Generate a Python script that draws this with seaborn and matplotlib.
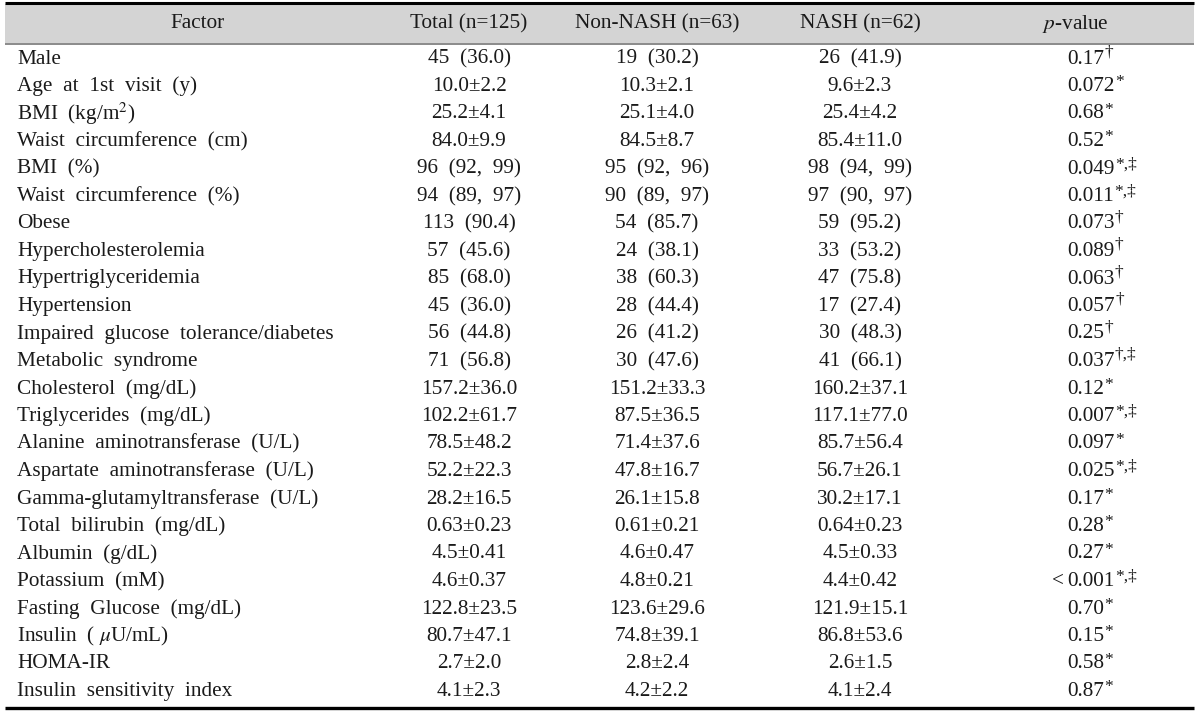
import matplotlib
matplotlib.use("Agg")
import matplotlib.pyplot as plt
import seaborn as sns

sns.set_theme(style="white")
plt.rcParams["font.family"] = ["Liberation Serif", "DejaVu Serif"]
plt.rcParams["mathtext.fontset"] = "stix"

headers = ["Factor", "Total (n=125)", "Non-NASH (n=63)", "NASH (n=62)", "$p$-value"]

factors = [
    "Male", "Age  at  1st  visit  (y)", "BMI  (kg/m$^2$)", "Waist  circumference  (cm)",
    "BMI  (%)", "Waist  circumference  (%)", "Obese", "Hypercholesterolemia",
    "Hypertriglyceridemia", "Hypertension", "Impaired  glucose  tolerance/diabetes",
    "Metabolic  syndrome", "Cholesterol  (mg/dL)", "Triglycerides  (mg/dL)",
    "Alanine  aminotransferase  (U/L)", "Aspartate  aminotransferase  (U/L)",
    "Gamma-glutamyltransferase  (U/L)", "Total  bilirubin  (mg/dL)", "Albumin  (g/dL)",
    "Potassium  (mM)", "Fasting  Glucose  (mg/dL)", "Insulin  ( $\\mu$U/mL)", "HOMA-IR",
    "Insulin  sensitivity  index",
]

total = [
    "45  (36.0)", "10.0±2.2", "25.2±4.1", "84.0±9.9", "96  (92,  99)", "94  (89,  97)",
    "113  (90.4)", "57  (45.6)", "85  (68.0)", "45  (36.0)", "56  (44.8)", "71  (56.8)",
    "157.2±36.0", "102.2±61.7", "78.5±48.2", "52.2±22.3", "28.2±16.5", "0.63±0.23",
    "4.5±0.41", "4.6±0.37", "122.8±23.5", "80.7±47.1", "2.7±2.0", "4.1±2.3",
]

non_nash = [
    "19  (30.2)", "10.3±2.1", "25.1±4.0", "84.5±8.7", "95  (92,  96)", "90  (89,  97)",
    "54  (85.7)", "24  (38.1)", "38  (60.3)", "28  (44.4)", "26  (41.2)", "30  (47.6)",
    "151.2±33.3", "87.5±36.5", "71.4±37.6", "47.8±16.7", "26.1±15.8", "0.61±0.21",
    "4.6±0.47", "4.8±0.21", "123.6±29.6", "74.8±39.1", "2.8±2.4", "4.2±2.2",
]

nash = [
    "26  (41.9)", "9.6±2.3", "25.4±4.2", "85.4±11.0", "98  (94,  99)", "97  (90,  97)",
    "59  (95.2)", "33  (53.2)", "47  (75.8)", "17  (27.4)", "30  (48.3)", "41  (66.1)",
    "160.2±37.1", "117.1±77.0", "85.7±56.4", "56.7±26.1", "30.2±17.1", "0.64±0.23",
    "4.5±0.33", "4.4±0.42", "121.9±15.1", "86.8±53.6", "2.6±1.5", "4.1±2.4",
]

p_values = [
    "0.17", "0.072", "0.68", "0.52", "0.049", "0.011", "0.073", "0.089", "0.063",
    "0.057", "0.25", "0.037", "0.12", "0.007", "0.097", "0.025", "0.17", "0.28",
    "0.27", "<0.001", "0.70", "0.15", "0.58", "0.87",
]

p_marks = [
    "†", "*", "*", "*", "*,‡", "*,‡", "†", "†", "†",
    "†", "†", "†,‡", "*", "*,‡", "*", "*,‡", "*", "*",
    "*", "*,‡", "*", "*", "*", "*",
]

W, H = 1200, 714
fig = plt.figure(figsize=(W / 100, H / 100), dpi=100)
ax = fig.add_axes([0, 0, 1, 1])
ax.set_xlim(0, W)
# row index units on y: row i sits at pixel 59 + 27.5*i
row_h = 27.5
y0 = 59
ax.set_ylim((H - y0) / row_h, -y0 / row_h)
ax.axis("off")

def py(p):
    return (p - y0) / row_h

fs = 15.3
txt_color = "#1a1a1a"

# header band and rules
ax.fill_between([5, 1194], py(4), py(43), color="#d4d4d4", lw=0, zorder=0)
ax.plot([5, 1194], [py(3), py(3)], color="black", lw=2.2, solid_capstyle="butt")
ax.plot([5, 1194], [py(43.5), py(43.5)], color="#8a8a8a", lw=1.4, solid_capstyle="butt")
ax.plot([5, 1194], [py(708), py(708)], color="black", lw=2.4, solid_capstyle="butt")

col_x = [197, 469, 657, 860, 1075]
hy = py(24)
for x, h in zip(col_x, headers):
    ax.text(x, hy, h, ha="center", va="center", fontsize=fs, color=txt_color)

for i, f in enumerate(factors):
    ax.text(17, i, f, ha="left", va="center", fontsize=fs, color=txt_color)
for col, x in zip([total, non_nash, nash], col_x[1:4]):
    for i, v in enumerate(col):
        ax.text(x, i, v, ha="center", va="center", fontsize=fs, color=txt_color)

px = 1067
for i, (p, m) in enumerate(zip(p_values, p_marks)):
    if p.startswith("<"):
        ax.text(px - 3, i, "<", ha="right", va="center", fontsize=fs, color=txt_color)
        p = p[1:]
    t = ax.text(px, i, p, ha="left", va="center", fontsize=fs, color=txt_color)
    off = 0.52 if m.startswith("*") else 0.64
    ax.annotate(m, xy=(1, off), xycoords=t, xytext=(0.3, 0), textcoords="offset points",
                ha="left", va="baseline", fontsize=12.5, color=txt_color)

fig.savefig("out.png", dpi=100)
